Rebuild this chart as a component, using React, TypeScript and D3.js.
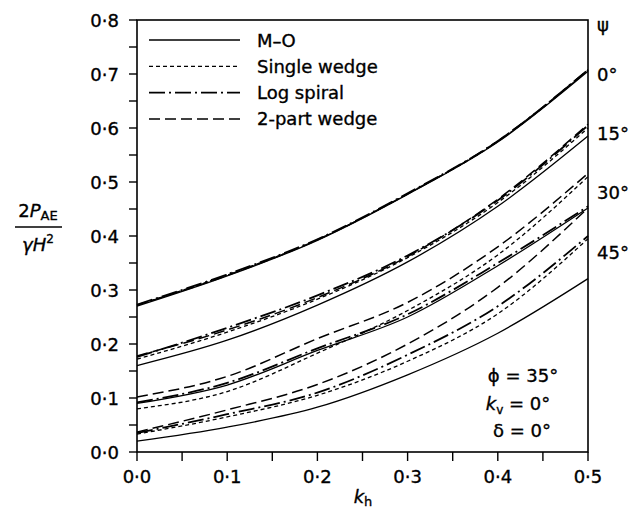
import * as d3 from "d3";

// k_h sample points
const KH = [0, 0.1, 0.2, 0.3, 0.4, 0.5];

// psi = 0 deg
const MO_0 = [0.27, 0.326, 0.392, 0.477, 0.574, 0.705];
const SW_0 = [0.272, 0.328, 0.393, 0.478, 0.575, 0.707];
const LS_0 = [0.273, 0.329, 0.394, 0.479, 0.576, 0.708];
const TW_0 = [0.272, 0.327, 0.393, 0.478, 0.576, 0.708];

// psi = 15 deg
const MO_15 = [0.16, 0.207, 0.272, 0.352, 0.455, 0.585];
const SW_15 = [0.172, 0.222, 0.283, 0.36, 0.462, 0.6];
const LS_15 = [0.176, 0.23, 0.29, 0.364, 0.466, 0.605];
const TW_15 = [0.178, 0.226, 0.286, 0.362, 0.468, 0.607];

// psi = 30 deg
const MO_30 = [0.09, 0.124, 0.188, 0.25, 0.345, 0.452];
const SW_30 = [0.08, 0.112, 0.183, 0.262, 0.365, 0.51];
const LS_30 = [0.092, 0.128, 0.192, 0.255, 0.35, 0.455];
const TW_30 = [0.102, 0.14, 0.21, 0.277, 0.38, 0.516];

// psi = 45 deg
const MO_45 = [0.02, 0.046, 0.083, 0.143, 0.22, 0.321];
const SW_45 = [0.033, 0.065, 0.105, 0.168, 0.256, 0.395];
const LS_45 = [0.035, 0.07, 0.11, 0.18, 0.27, 0.4];
const TW_45 = [0.037, 0.078, 0.125, 0.2, 0.305, 0.452];

const METHODS = ["M–O", "Single wedge", "Log spiral", "2-part wedge"];
const PSI_LABELS = ["0°", "15°", "30°", "45°"];
const PSI_VALUES = [0.7, 0.59, 0.48, 0.37];
const X_TICKS = [0, 0.1, 0.2, 0.3, 0.4, 0.5];
const Y_TICKS = [0, 0.1, 0.2, 0.3, 0.4, 0.5, 0.6, 0.7, 0.8];

const DASH: Record<string, string | undefined> = {
  "M–O": undefined,
  "Single wedge": "4 3",
  "Log spiral": "16 4 2 4",
  "2-part wedge": "11 5",
};
const WIDTH: Record<string, number> = {
  "M–O": 1.3,
  "Single wedge": 1.3,
  "Log spiral": 1.8,
  "2-part wedge": 1.5,
};

const SERIES = [
  { method: "M–O", values: [MO_0, MO_15, MO_30, MO_45] },
  { method: "Single wedge", values: [SW_0, SW_15, SW_30, SW_45] },
  { method: "Log spiral", values: [LS_0, LS_15, LS_30, LS_45] },
  { method: "2-part wedge", values: [TW_0, TW_15, TW_30, TW_45] },
];

const FONT = "'DejaVu Sans', sans-serif";
const fmt = (v: number) => v.toFixed(1).replace(".", "·");

export default function App() {
  const W = 640;
  const H = 512;
  const left = 137;
  const right = 588;
  const top = 20;
  const bottom = 452;

  const x = d3.scaleLinear().domain([0, 0.5]).range([left, right]);
  const y = d3.scaleLinear().domain([0, 0.8]).range([bottom, top]);

  const line = d3
    .line<number>()
    .x((_, i) => x(KH[i]))
    .y((d) => y(d))
    .curve(d3.curveMonotoneX);

  const minorX = d3.range(0, 0.5001, 0.05);
  const minorY = d3.range(0, 0.8001, 0.05);

  // scanned text looks heavy, thicken a bit
  const txt = { fill: "#000", stroke: "#000", strokeWidth: 0.35 };

  return (
    <svg
      width={W}
      height={H}
      style={{ position: "absolute", left: 0, top: 0, background: "#fff" }}
      fontFamily={FONT}
    >
      {/* curves */}
      {SERIES.map((s) =>
        s.values.map((vals, j) => (
          <path
            key={s.method + j}
            d={line(vals) ?? ""}
            fill="none"
            stroke="#000"
            strokeWidth={WIDTH[s.method]}
            strokeDasharray={DASH[s.method]}
          />
        ))
      )}

      {/* frame */}
      <rect
        x={left}
        y={top}
        width={right - left}
        height={bottom - top}
        fill="none"
        stroke="#000"
        strokeWidth={1.6}
      />

      {/* y ticks */}
      {minorY.map((v, i) => (
        <line key={"yt" + i} x1={left - 8} x2={left} y1={y(v)} y2={y(v)} stroke="#000" strokeWidth={1.4} />
      ))}
      {Y_TICKS.map((v) => (
        <text key={"yl" + v} x={119} y={y(v) + 6.5} textAnchor="end" fontSize={18} {...txt}>
          {fmt(v)}
        </text>
      ))}

      {/* x ticks */}
      {minorX.map((v, i) => (
        <line key={"xt" + i} x1={x(v)} x2={x(v)} y1={bottom} y2={bottom + 9} stroke="#000" strokeWidth={1.4} />
      ))}
      {X_TICKS.map((v) => (
        <text key={"xl" + v} x={x(v)} y={483} textAnchor="middle" fontSize={18} {...txt}>
          {fmt(v)}
        </text>
      ))}

      {/* x title */}
      <text x={363} y={503} textAnchor="middle" fontSize={18} {...txt}>
        <tspan fontStyle="italic">k</tspan>
        <tspan fontSize={13} dy={3}>h</tspan>
      </text>

      {/* y title */}
      <text x={38} y={217} textAnchor="middle" fontSize={18} {...txt}>
        2<tspan fontStyle="italic">P</tspan>
        <tspan fontSize={13} dy={3}>AE</tspan>
      </text>
      <line x1={15} x2={62} y1={227} y2={227} stroke="#000" strokeWidth={1.3} />
      <text x={38} y={251} textAnchor="middle" fontSize={18} fontStyle="italic" {...txt}>
        γH<tspan fontSize={12} dy={-8} fontStyle="normal">2</tspan>
      </text>

      {/* psi labels */}
      <text x={597} y={31} fontSize={18} {...txt}>ψ</text>
      {PSI_LABELS.map((t, i) => (
        <text key={t} x={597} y={y(PSI_VALUES[i]) + 6.5} fontSize={18} {...txt}>
          {t}
        </text>
      ))}

      {/* legend */}
      {METHODS.map((m, i) => {
        const ly = 40 + i * 26.3;
        return (
          <g key={m}>
            <line
              x1={149}
              x2={240}
              y1={ly}
              y2={ly}
              stroke="#000"
              strokeWidth={WIDTH[m]}
              strokeDasharray={DASH[m]}
            />
            <text x={257} y={ly + 6.5} fontSize={18} {...txt}>
              {m}
            </text>
          </g>
        );
      })}

      {/* parameters */}
      <text x={523} y={382} textAnchor="middle" fontSize={18} {...txt}>ϕ = 35°</text>
      <text x={518} y={410} textAnchor="middle" fontSize={18} {...txt}>
        <tspan fontStyle="italic">k</tspan>
        <tspan fontSize={12} dy={4}>v</tspan>
        <tspan dy={-4}> = 0°</tspan>
      </text>
      <text x={522} y={437} textAnchor="middle" fontSize={18} {...txt}>δ = 0°</text>
    </svg>
  );
}
